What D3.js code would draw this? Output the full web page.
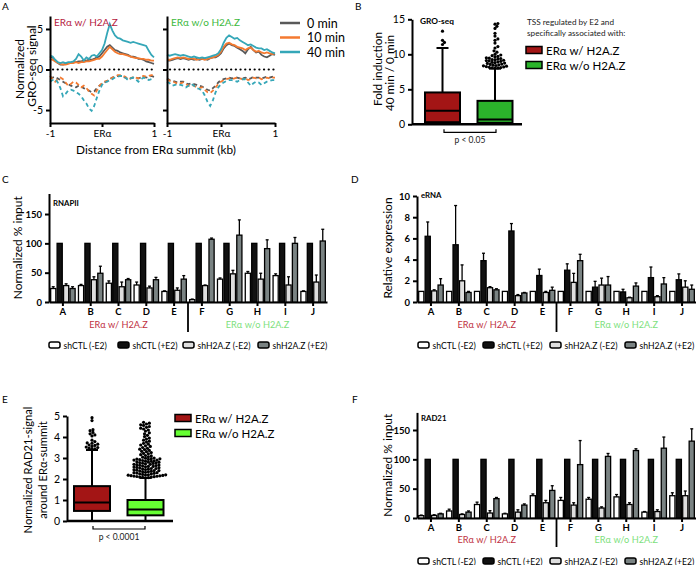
<!DOCTYPE html>
<html><head><meta charset="utf-8">
<script src="https://cdn.jsdelivr.net/npm/d3@7"></script>
<style>body{margin:0;background:#fff}svg{display:block}</style>
</head><body><svg id="c" width="696" height="565"></svg>
<script>
// ===================== DATA =====================
// Panel A: GRO-seq profiles around ERα summit (kb), 41 bins from -1 to 1
const profileKb = d3.range(41).map(i => -1 + i * 0.05);
const timepoints = ["0 min", "10 min", "40 min"];
// with H2A.Z : sense (positive) strand
const withSense0  = [1.6,1.5,1.1,0.8,0.6,0.6,0.7,0.8,0.8,0.9,0.9,1.0,1.0,1.1,1.1,1.2,1.2,1.3,1.5,1.6,2.0,2.4,2.8,3.0,2.7,2.4,2.3,2.1,2.0,1.9,1.8,1.6,1.6,1.5,1.3,1.3,1.2,1.0,0.9,0.8,0.7];
const withSense10 = [1.3,1.2,1.0,0.8,0.7,0.6,0.6,0.7,0.8,0.8,0.9,0.8,0.9,0.9,1.0,1.0,1.1,1.2,1.3,1.3,1.6,2.0,2.4,2.8,2.5,2.2,2.0,1.9,1.9,1.8,1.7,1.6,1.5,1.4,1.4,1.3,1.3,1.2,1.2,1.1,1.1];
const withSense40 = [1.7,1.6,1.2,0.9,0.8,0.9,0.8,0.9,0.9,1.0,1.3,1.9,1.6,1.1,1.5,1.3,1.7,1.8,1.6,2.0,2.4,3.2,4.5,5.6,4.8,4.2,3.9,3.8,3.6,3.5,3.4,3.3,3.4,3.3,3.2,3.1,3.0,2.9,2.3,1.8,1.5];
// with H2A.Z : antisense (negative) strand
const withAnti0  = [-1.0,-1.0,-0.9,-1.1,-1.3,-1.5,-1.7,-1.8,-2.0,-2.1,-2.2,-2.0,-2.1,-2.3,-2.5,-2.6,-2.8,-2.7,-2.3,-2.0,-1.8,-1.6,-1.4,-1.2,-1.0,-0.9,-0.8,-0.8,-0.9,-1.0,-1.2,-1.1,-1.0,-1.0,-1.1,-1.0,-0.9,-1.0,-0.9,-0.8,-0.9];
const withAnti10 = [-0.8,-1.2,-1.5,-1.2,-1.0,-1.2,-1.6,-2.0,-1.8,-1.5,-1.6,-1.9,-2.2,-2.0,-2.3,-2.7,-3.0,-3.2,-2.6,-2.0,-1.7,-1.5,-1.4,-1.2,-1.0,-0.9,-0.7,-0.7,-0.8,-0.9,-1.2,-1.1,-0.9,-1.0,-1.1,-0.9,-0.8,-0.9,-0.8,-0.7,-0.7];
const withAnti40 = [-1.5,-1.3,-1.2,-1.6,-2.3,-3.3,-3.0,-2.6,-2.5,-2.6,-2.8,-3.0,-3.3,-3.8,-4.2,-4.8,-5.1,-4.5,-3.5,-2.6,-1.9,-1.6,-1.5,-1.3,-1.2,-1.0,-0.9,-0.8,-0.8,-1.0,-1.3,-1.1,-1.0,-1.2,-1.5,-1.2,-1.0,-1.1,-1.3,-1.2,-1.1];
// without H2A.Z : sense strand
const woSense0  = [1.1,1.1,1.2,1.3,1.4,1.3,1.4,1.3,1.2,1.3,1.2,1.3,1.2,1.3,1.3,1.2,1.4,1.5,1.5,1.7,2.0,2.6,3.0,3.2,3.0,2.9,2.7,2.5,2.3,2.0,2.5,2.8,2.4,2.1,2.2,1.8,1.6,1.5,1.7,1.9,1.8];
const woSense10 = [1.2,1.2,1.3,1.4,1.5,1.4,1.5,1.4,1.3,1.4,1.3,1.2,1.3,1.3,1.2,1.3,1.4,1.5,1.6,1.8,2.2,2.8,3.2,3.3,3.1,3.0,2.8,2.7,2.6,2.4,2.6,2.7,2.4,2.2,2.3,2.1,2.0,2.1,2.0,1.9,2.0];
const woSense40 = [1.8,1.7,1.8,1.9,1.8,1.7,1.8,1.7,1.6,1.5,1.6,1.5,1.4,1.5,1.4,1.5,1.6,1.7,1.8,2.0,2.5,3.3,3.9,4.2,4.0,3.8,3.9,3.6,3.4,3.2,3.0,3.1,2.9,2.7,2.6,2.6,2.4,2.5,2.3,2.1,2.0];
// without H2A.Z : antisense strand
const woAnti0  = [-1.1,-1.3,-1.4,-1.5,-1.6,-1.5,-1.5,-1.7,-1.8,-1.7,-1.8,-1.9,-2.0,-2.1,-2.3,-2.5,-2.6,-2.3,-2.0,-1.6,-1.3,-1.2,-1.1,-1.0,-1.1,-1.0,-1.0,-1.1,-1.1,-1.0,-1.2,-1.1,-0.9,-1.0,-1.0,-1.1,-1.0,-0.9,-1.0,-0.9,-1.0];
const woAnti10 = [-1.2,-1.4,-1.5,-1.6,-1.8,-1.7,-1.6,-1.8,-2.0,-1.9,-2.0,-2.2,-2.3,-2.2,-2.5,-2.8,-2.9,-2.6,-2.2,-1.8,-1.5,-1.3,-1.2,-1.1,-1.2,-1.1,-1.0,-1.1,-1.2,-1.1,-1.3,-1.2,-1.0,-1.1,-1.0,-1.2,-1.1,-1.0,-1.1,-1.0,-1.0];
const woAnti40 = [-1.5,-1.7,-2.0,-1.9,-1.8,-1.9,-2.0,-2.2,-2.0,-1.8,-2.0,-2.3,-2.4,-2.6,-3.2,-4.0,-4.5,-3.8,-2.8,-2.2,-1.8,-1.6,-1.4,-1.3,-1.3,-1.4,-1.5,-1.3,-1.2,-1.2,-1.6,-2.0,-1.7,-1.5,-1.6,-1.9,-1.7,-1.5,-1.4,-1.3,-1.3];

// Panels B and E: box plots
const boxCategories = ["ERα w/ H2A.Z", "ERα w/o H2A.Z"];
const groBoxStats = [
  {min: 0, q1: 0.3, median: 1.95, q3: 4.55, max: 10.9},
  {min: 0, q1: 0.2, median: 0.7, q3: 3.35, max: 7.95}
];
const groOutliersWith = [11.4, 11.7, 12.0, 13.3];
const groOutliersWithout = [8.02,8.05,8.08,8.1,8.15,8.2,8.25,8.3,8.35,8.4,8.45,8.5,8.55,8.6,8.7,8.75,8.8,8.85,8.9,9.0,9.05,9.1,9.15,9.2,9.25,9.3,9.4,9.45,9.5,9.6,9.7,9.8,9.9,10.0,10.3,10.5,10.9,11.1,11.6,12.0,12.2,12.6,13.0,13.7,14.0,14.3,14.4];
const radBoxStats = [
  {min: 0, q1: 0.48, median: 0.88, q3: 1.66, max: 3.38},
  {min: 0, q1: 0.27, median: 0.55, q3: 1.0, max: 2.05}
];
const radOutliersWith = [3.42,3.44,3.47,3.5,3.52,3.55,3.6,3.62,3.66,3.7,3.72,3.78,3.85,4.05,4.1,4.15,4.22,4.3,4.35,4.78,4.92];
const radOutliersWithout = [4.7,4.66,4.62,4.58,4.55,4.5,4.46,4.42,4.38,4.33,4.28,4.2,4.15,4.08,4.02,3.95,3.9,3.85,3.8,3.76,3.7,3.66,3.62,3.58,3.55,3.5,3.46,3.42,3.4,3.36,3.32,3.3,3.26,3.22,3.2,3.16,3.12,3.1,3.06,3.04,
  3.0,2.99,2.97,2.96,2.95,2.93,2.92,2.9,2.9,2.88,2.87,2.85,2.84,2.82,2.8,2.8,2.78,2.77,2.75,2.74,2.72,2.7,2.7,2.68,2.67,2.65,2.64,2.62,2.6,2.6,2.58,2.57,2.55,2.54,2.52,2.5,2.5,2.48,2.47,2.45,2.44,2.42,2.4,2.4,2.38,2.37,2.35,2.34,2.32,2.3,2.3,2.28,2.27,2.25,2.24,2.22,2.2,2.2,2.19,2.18,2.17,2.16,2.15,2.14,2.13,2.12,2.11,2.1,2.09,2.08,2.07,2.06];

// Panels C, D, F: grouped bars
const regions = ["A","B","C","D","E","F","G","H","I","J"];
const conditions = ["shCTL (-E2)", "shCTL (+E2)", "shH2A.Z (-E2)", "shH2A.Z (+E2)"];
// RNAPII (normalized % input)
const rnapiiMean = [
  [23, 28, 32, 29, 18, 4, 39, 49, 45, 18],
  [100,100,100,100,100,100,100,100,100,100],
  [28, 38, 26, 24, 20, 28, 48, 39, 29, 34],
  [23, 49, 38, 38, 39, 107, 114, 91, 100, 104]
];
const rnapiiErr = [
  [3, 2, 4, 5, 1, 1, 2, 3, 3, 1],
  [0,0,0,0,0,0,0,0,0,0],
  [3, 5, 8, 3, 4, 1, 6, 10, 14, 12],
  [3, 12, 2, 4, 6, 2, 26, 15, 10, 20]
];
// eRNA (relative expression)
const ernaMean = [
  [1,1,1,1,1,1,1,1,1,1],
  [6.2, 5.4, 3.9, 6.7, 2.5, 3.0, 1.4, 0.95, 2.3, 2.1],
  [1.05, 2.0, 1.35, 0.6, 0.9, 1.85, 1.6, 0.4, 0.5, 1.4],
  [1.6, 0.9, 1.15, 0.85, 1.1, 3.9, 1.6, 1.5, 1.7, 1.2]
];
const ernaErr = [
  [0,0,0,0,0,0,0,0,0,0],
  [1.35, 3.7, 0.7, 0.7, 0.6, 0.6, 0.55, 0.25, 1.0, 0.55],
  [0.1, 1.5, 0.1, 0.1, 0.1, 0.85, 0.65, 0.05, 0.1, 0.6],
  [0.6, 0.1, 0.1, 0.05, 0.3, 0.6, 0.8, 0.3, 0.6, 0.4]
];
// RAD21 (normalized % input)
const rad21Mean = [
  [4, 12, 23, 7, 38, 30, 32, 36, 10, 38],
  [100,100,100,100,100,100,100,100,100,100],
  [4.5, 6, 8.5, 10, 26, 22, 17, 23, 11, 38],
  [7, 10, 33, 22, 47, 91, 105, 115, 119, 131]
];
const rad21Err = [
  [1, 3, 4, 1, 3, 5, 3, 4, 1, 5],
  [0,0,0,0,0,0,0,0,0,0],
  [1, 1, 4, 4, 4, 4, 2, 3, 3, 8],
  [1, 2, 2, 2, 8, 41, 5, 3, 19, 21]
];

// ===================== STYLE =====================
const FONT = "Lato, 'Open Sans', sans-serif";
const timeColors = ["#595959", "#f47a30", "#35a7b8"];
const condColors = ["#ffffff", "#111111", "#dedede", "#7a8383"];
const redText = "#c0303f", greenText = "#7ddf7d";

const svg = d3.select("#c").attr("font-family", FONT);
svg.append("rect").attr("width", 696).attr("height", 565).attr("fill", "#fff");

function txt(x, y, s, o = {}) {
  const t = svg.append("text").attr("x", x).attr("y", y).text(s)
    .attr("font-size", o.size || 11).attr("fill", o.fill || "#000")
    .attr("text-anchor", o.anchor || "start").attr("font-weight", o.weight || "normal");
  if (o.rotate) t.attr("transform", `rotate(-90,${x},${y})`);
  return t;
}
function styleAxis(g, fs = 10) {
  g.attr("font-family", FONT).attr("font-size", fs);
  g.selectAll(".domain").attr("stroke", "#000").attr("stroke-width", 2);
  g.selectAll(".tick line").attr("stroke", "#000").attr("stroke-width", 2);
  g.selectAll(".tick text").attr("fill", "#000");
}

// Panel letters
[["A",2,10],["B",355,10],["C",2,183],["D",351,183],["E",2,403],["F",352,403]].forEach(d => txt(d[1], d[2], d[0], {size: 10}));

// ===================== PANEL A =====================
const aY = d3.scaleLinear().domain([-6.6, 6.6]).range([123, 16]);
function profilePanel(xr, sense, anti, title, titleColor, showY) {
  const x = d3.scaleLinear().domain([-1, 1]).range(xr);
  const line = d3.line().x((d, i) => x(profileKb[i])).y(d => aY(d));
  svg.append("line").attr("x1", x(-1) + 3).attr("x2", x(1)).attr("y1", aY(0)).attr("y2", aY(0))
    .attr("stroke", "#000").attr("stroke-width", 2.2).attr("stroke-dasharray", "0.1,4.6").attr("stroke-linecap", "round");
  anti.forEach((s, k) => svg.append("path").attr("d", line(s)).attr("fill", "none")
    .attr("stroke", timeColors[k]).attr("stroke-width", 1.8).attr("stroke-dasharray", "4,3"));
  sense.forEach((s, k) => svg.append("path").attr("d", line(s)).attr("fill", "none")
    .attr("stroke", timeColors[k]).attr("stroke-width", 1.8));
  const gy = svg.append("g").attr("transform", `translate(${xr[0]},0)`)
    .call(d3.axisLeft(aY).tickValues([-5, 0, 5]).tickSize(4).tickSizeOuter(0).tickFormat(d => showY ? String(d) : ""));
  styleAxis(gy, 10.5);
  const gx = svg.append("g").attr("transform", `translate(0,${aY(-6.6)})`)
    .call(d3.axisBottom(x).tickValues([-1, 0, 1]).tickSize(4).tickSizeOuter(0).tickFormat(d => d === 0 ? "ERα" : String(d)));
  styleAxis(gx, 10);
  txt(xr[0] + 4, 26, title, {size: 10, fill: titleColor});
}
profilePanel([50, 154], [withSense0, withSense10, withSense40], [withAnti0, withAnti10, withAnti40], "ERα w/ H2A.Z", "#b5213e", true);
profilePanel([167, 275], [woSense0, woSense10, woSense40], [woAnti0, woAnti10, woAnti40], "ERα w/o H2A.Z", "#3cb83c", false);
txt(24, 69, "Normalized", {size: 12, anchor: "middle", rotate: true});
txt(36, 66, "GRO-seq signal", {size: 12, anchor: "middle", rotate: true});
txt(156, 154, "Distance from ERα summit (kb)", {size: 11.8, anchor: "middle"});
timepoints.forEach((t, k) => {
  const yy = 23 + k * 14.5;
  svg.append("line").attr("x1", 280).attr("x2", 300).attr("y1", yy).attr("y2", yy)
    .attr("stroke", timeColors[k]).attr("stroke-width", 2.5);
  txt(307, yy + 4.5, t, {size: 12.5});
});

// ===================== BOX PLOTS =====================
function swarm(values, yScale, cx, r) {
  const placed = [];
  values.slice().sort((a, b) => a - b).forEach(v => {
    const y = yScale(v);
    let x = cx;
    for (let i = 0; i < 400; i++) {
      const off = i === 0 ? 0 : (i % 2 ? 1 : -1) * Math.ceil(i / 2) * r * 0.6;
      x = cx + off;
      if (placed.every(p => (p.x - x) ** 2 + (p.y - y) ** 2 >= (1.7 * r) ** 2)) break;
    }
    placed.push({x, y});
  });
  return placed;
}
function boxPanel(o) {
  const x = d3.scalePoint().domain(boxCategories).range(o.centers);
  const y = o.y;
  const gy = svg.append("g").attr("transform", `translate(${o.axisX[0]},0)`)
    .call(d3.axisLeft(y).tickValues(o.ticks).tickSize(4).tickSizeOuter(0).tickFormat(d => String(d)));
  styleAxis(gy, 10.5);
  svg.append("line").attr("x1", o.axisX[0]).attr("x2", o.axisX[1]).attr("y1", y(0)).attr("y2", y(0))
    .attr("stroke", "#000").attr("stroke-width", 2.5);
  o.stats.forEach((s, i) => {
    const c = x(boxCategories[i]), w = o.boxW;
    svg.append("line").attr("x1", c).attr("x2", c).attr("y1", y(s.q3)).attr("y2", y(s.max)).attr("stroke", "#000").attr("stroke-width", 2);
    svg.append("line").attr("x1", c - 6).attr("x2", c + 6).attr("y1", y(s.max)).attr("y2", y(s.max)).attr("stroke", "#000").attr("stroke-width", 2);
    svg.append("line").attr("x1", c).attr("x2", c).attr("y1", y(s.q1)).attr("y2", y(s.min)).attr("stroke", "#000").attr("stroke-width", 2);
    svg.append("rect").attr("x", c - w / 2).attr("y", y(s.q3)).attr("width", w).attr("height", y(s.q1) - y(s.q3))
      .attr("fill", o.colors[i]).attr("stroke", "#000").attr("stroke-width", 2);
    svg.append("line").attr("x1", c - w / 2).attr("x2", c + w / 2).attr("y1", y(s.median)).attr("y2", y(s.median)).attr("stroke", "#000").attr("stroke-width", 2);
    swarm(o.outliers[i], y, c, o.r).forEach(p => svg.append("circle").attr("cx", p.x).attr("cy", p.y).attr("r", o.r).attr("fill", "#000"));
  });
  const [bx0, bx1] = o.bracket, by = y(0) + 8;
  svg.append("path").attr("d", `M${bx0},${by - 3}V${by}H${bx1}V${by - 3}`).attr("fill", "none").attr("stroke", "#000").attr("stroke-width", 1.2);
  txt((bx0 + bx1) / 2, by + 11, o.pText, {size: 8.5, anchor: "middle", fill: "#222"});
  boxCategories.forEach((c, i) => {
    const ly = o.legendY[i];
    svg.append("rect").attr("x", o.legendX).attr("y", ly - 3.5).attr("width", 16).attr("height", 7)
      .attr("fill", o.colors[i]).attr("stroke", "#000").attr("stroke-width", 1.5);
    txt(o.legendX + 20, ly + 4.5, c, {size: 11.5});
  });
}
// Panel B
boxPanel({
  y: d3.scaleLinear().domain([0, 15]).range([124.3, 19.3]), ticks: [0, 5, 10, 15],
  axisX: [412, 522], centers: [442.5, 495], boxW: 35, r: 1.6,
  stats: groBoxStats, outliers: [groOutliersWith, groOutliersWithout],
  colors: ["#a31515", "#2bb32b"], bracket: [444, 496], pText: "p < 0.05",
  legendX: 526, legendY: [50, 65]
});
txt(420, 24, "GRO-seq", {size: 8.3, weight: "bold"});
txt(382, 69, "Fold induction", {size: 11.8, anchor: "middle", rotate: true});
txt(394, 73, "40 min / 0 min", {size: 11.8, anchor: "middle", rotate: true});
txt(527, 25, "TSS regulated by E2 and", {size: 8.2, fill: "#222"});
txt(527, 36, "specifically associated with:", {size: 8.2, fill: "#222"});
// Panel E
boxPanel({
  y: d3.scaleLinear().domain([0, 5]).range([521, 416]), ticks: [0, 1, 2, 3, 4, 5],
  axisX: [67, 173], centers: [92, 145.5], boxW: 36, r: 1.6,
  stats: radBoxStats, outliers: [radOutliersWith, radOutliersWithout],
  colors: ["#a31515", "#66ff33"], bracket: [93, 145], pText: "p < 0.0001",
  legendX: 175, legendY: [418, 433]
});
txt(32, 470, "Normalized RAD21-signal", {size: 11.2, anchor: "middle", rotate: true});
txt(47, 470, "around ERα-summit", {size: 11.2, anchor: "middle", rotate: true});

// ===================== BAR PANELS =====================
function barPanel(o) {
  const x = d3.scaleBand().domain(regions).range(o.xr).paddingInner(0.12).paddingOuter(0.06);
  const xi = d3.scaleBand().domain(d3.range(4)).range([0, x.bandwidth()]).paddingInner(0.2);
  const y = d3.scaleLinear().domain(o.yDomain).range(o.yr);
  const gy = svg.append("g").attr("transform", `translate(${o.xr[0]},0)`)
    .call(d3.axisLeft(y).tickValues(o.ticks).tickSize(4).tickSizeOuter(0).tickFormat(d => String(d)));
  styleAxis(gy, 9.5);
  gy.selectAll(".tick text").attr("font-weight", "bold");
  const gx = svg.append("g").attr("transform", `translate(0,${y(0)})`)
    .call(d3.axisBottom(x).tickSize(4).tickSizeOuter(0).tickPadding(2));
  styleAxis(gx, 9.5);
  gx.selectAll(".tick text").attr("font-weight", "bold");
  o.mean.forEach((arr, k) => {
    arr.forEach((v, j) => {
      const bx = x(regions[j]) + xi(k), w = xi.bandwidth();
      const e = o.err[k][j];
      if (e > 0) {
        svg.append("line").attr("x1", bx + w / 2).attr("x2", bx + w / 2).attr("y1", y(v)).attr("y2", y(v + e)).attr("stroke", "#000").attr("stroke-width", 1.3);
        svg.append("line").attr("x1", bx + w / 2 - 1.5).attr("x2", bx + w / 2 + 1.5).attr("y1", y(v + e)).attr("y2", y(v + e)).attr("stroke", "#000").attr("stroke-width", 1.3);
      }
      svg.append("rect").attr("x", bx).attr("y", y(v)).attr("width", w).attr("height", y(0) - y(v))
        .attr("fill", condColors[k]).attr("stroke", "#000").attr("stroke-width", 1.3);
    });
  });
  // separator between groups
  const sx = (x("E") + x.bandwidth() + x("F")) / 2;
  svg.append("line").attr("x1", sx).attr("x2", sx).attr("y1", y(0)).attr("y2", y(0) + o.sepLen).attr("stroke", "#000").attr("stroke-width", 1.8);
  txt((x("A") + x("E") + x.bandwidth()) / 2, y(0) + o.groupDy, "ERα w/ H2A.Z", {size: 9.2, anchor: "middle", fill: redText});
  txt((x("F") + x("J") + x.bandwidth()) / 2, y(0) + o.groupDy, "ERα w/o H2A.Z", {size: 9.2, anchor: "middle", fill: greenText});
  conditions.forEach((c, k) => {
    svg.append("rect").attr("x", o.legX[k]).attr("y", o.legY - 3).attr("width", 11).attr("height", 6).attr("rx", 2)
      .attr("fill", condColors[k]).attr("stroke", "#000").attr("stroke-width", 1.5);
    txt(o.legX[k] + 14.5, o.legY + 3.5, c, {size: 8.6});
  });
  txt(o.xr[0] + 4, o.labelY, o.label, {size: 7.8, weight: "bold"});
  txt(o.titleX, (o.yr[0] + o.yr[1]) / 2 + o.titleDy, o.title, {size: 12, anchor: "middle", rotate: true});
}
barPanel({
  xr: [49, 327], yDomain: [0, 185], yr: [302, 193.5], ticks: [0, 50, 100, 150],
  mean: rnapiiMean, err: rnapiiErr, sepLen: 30, groupDy: 26,
  legX: [49, 118, 183, 258], legY: 345, label: "RNAPII", labelY: 206,
  title: "Normalized % input", titleX: 22, titleDy: 0
});
barPanel({
  xr: [417, 696], yDomain: [0, 10], yr: [302, 196], ticks: [0, 2, 4, 6, 8, 10],
  mean: ernaMean, err: ernaErr, sepLen: 30, groupDy: 26,
  legX: [418, 483, 550, 625], legY: 345, label: "eRNA", labelY: 198,
  title: "Relative expression", titleX: 392, titleDy: -1
});
barPanel({
  xr: [417, 696], yDomain: [0, 180], yr: [518, 412.4], ticks: [0, 50, 100, 150],
  mean: rad21Mean, err: rad21Err, sepLen: 29, groupDy: 25,
  legX: [418, 483, 550, 625], legY: 561, label: "RAD21", labelY: 421,
  title: "Normalized % input", titleX: 392, titleDy: 0
});
</script></body></html>
